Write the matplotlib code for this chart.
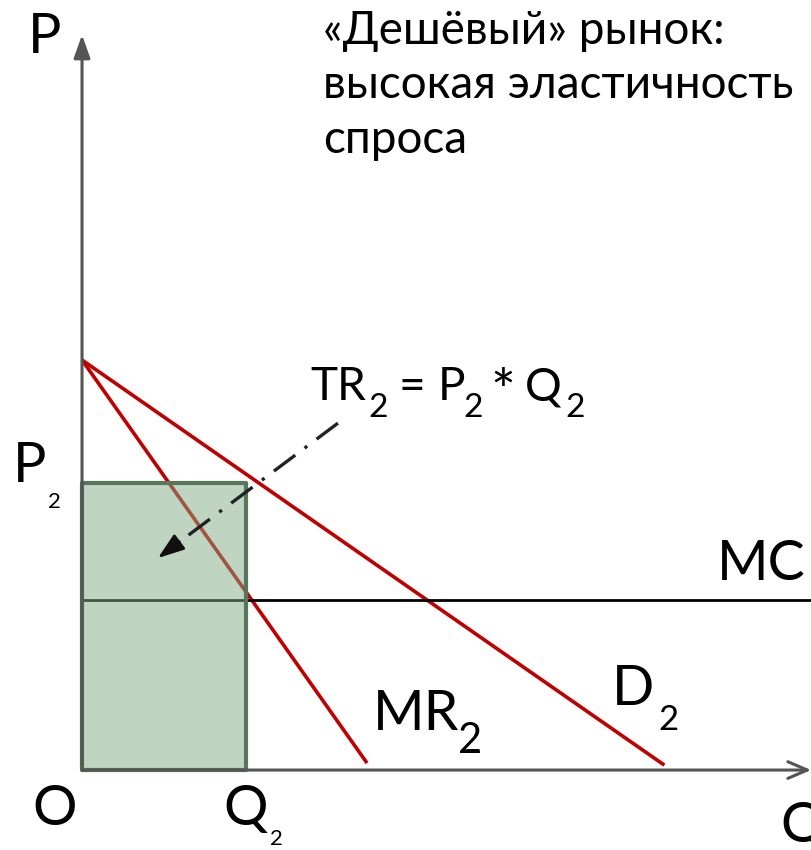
import matplotlib
matplotlib.use("Agg")
import matplotlib.pyplot as plt
from matplotlib.patches import Rectangle

plt.rcParams['font.family'] = ['Lato', 'DejaVu Sans']

# Linear demand and marginal revenue on the "cheap" market (price vs quantity)
demand_q = [0.0, 14.2]
demand_p = [10.0, 0.12]
mr_q = [0.0, 6.95]
mr_p = [10.0, 0.17]
mc_level = 4.15
q2 = 4.0
p2 = 7.0
q_axis_end = 17.78
p_axis_end = 17.93

title_lines = ["«Дешёвый» рынок:", "высокая эластичность", "спроса"]

RED = '#c00000'
AXIS = '#555555'

fig = plt.figure(figsize=(8.12, 8.5), dpi=100)
ax = fig.add_axes([0, 0, 1, 1])
ax.set_xlim(-2.0, 17.8)
ax.set_ylim(-1.95, 18.78)
ax.axis('off')

# axes with arrows
ax.annotate('', xy=(0, p_axis_end), xytext=(0, 0),
            arrowprops=dict(arrowstyle='-|>,head_length=0.7,head_width=0.25',
                            color=AXIS, lw=2.2, mutation_scale=20, shrinkA=0, shrinkB=0),
            zorder=5)
ax.annotate('', xy=(q_axis_end, 0), xytext=(0, 0),
            arrowprops=dict(arrowstyle='->,head_length=0.7,head_width=0.3',
                            color=AXIS, lw=2.2, mutation_scale=20, shrinkA=0, shrinkB=0),
            zorder=5)

# demand, marginal revenue, marginal cost
ax.plot(demand_q, demand_p, color=RED, lw=2.6, solid_capstyle='butt', zorder=2)
ax.plot(mr_q, mr_p, color=RED, lw=2.6, solid_capstyle='butt', zorder=2)
ax.plot([0, q_axis_end], [mc_level, mc_level], color='black', lw=2.0, zorder=2)

# total revenue rectangle
ax.add_patch(Rectangle((0, 0), q2, p2, facecolor='#81ad85', alpha=0.5,
                       edgecolor='none', zorder=3))
ax.add_patch(Rectangle((0, 0), q2, p2, fill=False, edgecolor='#56775a',
                       lw=3.0, joinstyle='round', zorder=4))

# pointer from the TR label into the rectangle
start = (6.24, 8.46)
tip = (1.85, 5.17)
near = (tip[0] + (start[0] - tip[0]) * 0.12, tip[1] + (start[1] - tip[1]) * 0.12)
ax.plot([start[0], near[0]], [start[1], near[1]], color='#222222', lw=2.4,
        linestyle=(0, (8, 3.5, 1, 3.5)), zorder=6)
ax.annotate('', xy=tip, xytext=near,
            arrowprops=dict(arrowstyle='-|>,head_length=0.8,head_width=0.28',
                            color='#111111', lw=2.0, mutation_scale=20,
                            shrinkA=0, shrinkB=0),
            zorder=6)

big = 40
kw = dict(ha='left', va='baseline', color='black')

ax.text(-1.32, 17.49, 'P', fontsize=big, **kw)
ax.text(-1.22, -1.34, 'O', fontsize=big, **kw)
ax.text(3.44, -1.34, 'Q', fontsize=big, **kw)
ax.text(4.59, -1.83, '2', fontsize=16, **kw)
ax.text(17.02, -1.76, 'Q', fontsize=big, **kw)
ax.text(-1.68, 7.02, 'P', fontsize=big, **kw)
ax.text(-0.83, 6.39, '2', fontsize=16, **kw)
ax.text(15.49, 4.63, 'MC', fontsize=big, **kw)
ax.text(12.93, 1.59, 'D', fontsize=big, **kw)
ax.text(14.05, 0.98, '2', fontsize=25, **kw)
ax.text(7.10, 0.98, 'MR', fontsize=big, **kw)
ax.text(9.17, 0.41, '2', fontsize=30, **kw)

# TR = P * Q label
tr_main, tr_sub = 33, 24
ax.text(5.56, 9.02, 'TR', fontsize=tr_main, **kw)
ax.text(6.98, 8.61, '2', fontsize=tr_sub, **kw)
ax.text(7.71, 9.02, '=', fontsize=tr_main, **kw)
ax.text(8.68, 9.02, 'P', fontsize=tr_main, **kw)
ax.text(9.29, 8.61, '2', fontsize=tr_sub, **kw)
ax.text(9.95, 8.75, '*', fontsize=42, **kw)
ax.text(10.80, 9.02, 'Q', fontsize=tr_main, **kw)
ax.text(11.78, 8.61, '2', fontsize=tr_sub, **kw)

# heading
for line, y in zip(title_lines, [17.70, 16.38, 15.05]):
    ax.text(5.88, y, line, fontsize=33, **kw)

fig.savefig('out.png', dpi=100)
